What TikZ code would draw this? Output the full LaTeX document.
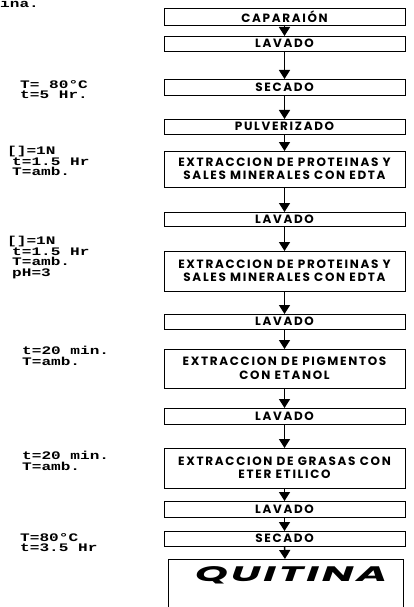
\documentclass[tikz,border=0pt]{standalone}
\usepackage{fontspec}
\setmainfont{Poppins}
\newfontfamily\labfont[FakeStretch=1.4]{Liberation Mono}
\newfontfamily\boxfont[LetterSpace=14]{Poppins}
\newfontfamily\quifont[FakeStretch=2.0,LetterSpace=14]{Poppins}
\usetikzlibrary{arrows.meta}
\tikzset{
  stepbox/.style={draw, line width=0.9pt, minimum width=241pt, inner sep=0pt, outer sep=0pt,
    font=\boxfont\bfseries\fontsize{12}{13.5}\selectfont, align=center},
  flow/.style={line width=1.5pt, -{Triangle[width=11pt,length=9pt]}},
  lab/.style={font=\labfont\bfseries\fontsize{11.5}{10.5}\selectfont, align=left, anchor=north west, inner sep=0pt}
}
\begin{document}
\begin{tikzpicture}[x=1pt,y=-1pt]
\useasboundingbox (0,0) rectangle (413,607);
\clip (0,0) rectangle (413,607);
\node[lab, anchor=base west] (ina) at (0,8) {ina.};
% boxes
\node[stepbox, minimum height=17pt] (cap) at (284.5,16.5) {CAPARAIÓN};
\node[stepbox, minimum height=15pt] (lav1) at (284.5,43.5) {LAVADO};
\node[stepbox, minimum height=16pt] (sec1) at (284.5,87) {SECADO};
\node[stepbox, minimum height=15pt] (pul) at (284.5,126.5) {PULVERIZADO};
\node[stepbox, minimum height=36pt] (ext1) at (284.5,169) {EXTRACCION DE PROTEINAS Y\\SALES MINERALES CON EDTA};
\node[stepbox, minimum height=14pt] (lav2) at (284.5,219) {LAVADO};
\node[stepbox, minimum height=40pt] (ext2) at (284.5,271) {EXTRACCION DE PROTEINAS Y\\SALES MINERALES CON EDTA};
\node[stepbox, minimum height=15pt] (lav3) at (284.5,321.5) {LAVADO};
\node[stepbox, minimum height=39pt] (ext3) at (284.5,368.5) {EXTRACCION DE PIGMENTOS\\CON ETANOL};
\node[stepbox, minimum height=16pt] (lav4) at (284.5,416) {LAVADO};
\node[stepbox, minimum height=40pt] (ext4) at (284.5,468) {EXTRACCION DE GRASAS CON\\ETER ETILICO};
\node[stepbox, minimum height=16pt] (lav5) at (284.5,509) {LAVADO};
\node[stepbox, minimum height=15pt] (sec2) at (284.5,538.5) {SECADO};
\node[stepbox, minimum width=235pt, minimum height=52pt, text depth=0pt] (qui) at (285.5,585) {};
\node[font=\quifont\bfseries\itshape\fontsize{21}{21}\selectfont, inner sep=0pt] (quit) at (291,575) {QUITINA};
% connectors
\draw[flow] (cap) -- (lav1);
\draw[flow] (lav1) -- (sec1);
\draw[flow] (sec1) -- (pul);
\draw[flow] (pul) -- (ext1);
\draw[flow] (ext1) -- (lav2);
\draw[flow] (lav2) -- (ext2);
\draw[flow] (ext2) -- (lav3);
\draw[flow] (lav3) -- (ext3);
\draw[flow] (ext3) -- (lav4);
\draw[flow] (lav4) -- (ext4);
\draw[flow] (ext4) -- (lav5);
\draw[flow] (lav5) -- (sec2);
\draw[flow] (sec2) -- (qui);
% conditions
\node[lab] (c1) at (20,80) {T= 80°C\\t=5 Hr.};
\node[lab] (c2) at (7,146) {[]=1N\\\hspace*{5pt}t=1.5 Hr\\\hspace*{5pt}T=amb.};
\node[lab] (c3) at (7,236) {[]=1N\\\hspace*{5pt}t=1.5 Hr\\\hspace*{5pt}T=amb.\\\hspace*{5pt}pH=3};
\node[lab] (c4) at (22,346) {t=20 min.\\T=amb.};
\node[lab] (c5) at (22,451) {t=20 min.\\T=amb.};
\node[lab] (c6) at (20,533) {T=80°C\\t=3.5 Hr};
\end{tikzpicture}
\end{document}
